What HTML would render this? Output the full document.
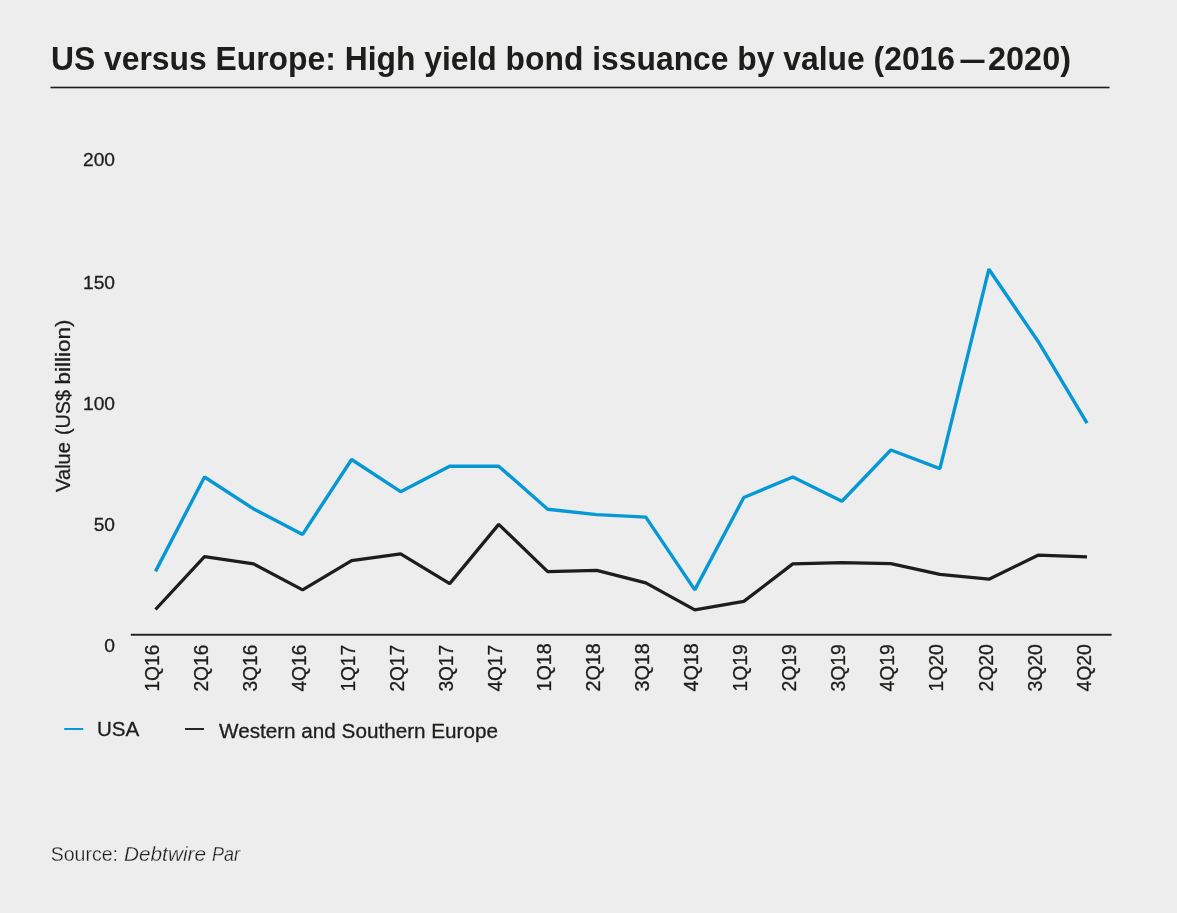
<!DOCTYPE html>
<html lang="en">
<head>
<meta charset="utf-8">
<title>US versus Europe: High yield bond issuance by value (2016—2020)</title>
<style>
html,body{margin:0;padding:0;background:#ededed;}
body{width:1177px;height:913px;overflow:hidden;font-family:"Liberation Sans",sans-serif;}
svg{display:block}
text{font-family:"Liberation Sans",sans-serif;fill:#1d1d1b}
.title{font-size:32.3px;font-weight:bold;fill:#1d1d1b}
.yl{font-size:19.2px;stroke:#1d1d1b;stroke-width:0.3px}
.xl,.lg{font-size:20px;stroke:#1d1d1b;stroke-width:0.3px}
.yt{font-size:20.5px;stroke:#1d1d1b;stroke-width:0.3px}
.src{font-size:20px;fill:#1d1d1b;stroke:#ededed;stroke-width:0.28px}
</style>
</head>
<body>
<svg width="1177" height="913" viewBox="0 0 1177 913">
<rect width="1177" height="913" fill="#ededed"/>
<text class="title" y="69.6"><tspan x="51" textLength="904" lengthAdjust="spacingAndGlyphs">US versus Europe: High yield bond issuance by value (2016</tspan><tspan x="960.5" textLength="24" lengthAdjust="spacingAndGlyphs">—</tspan><tspan x="988" textLength="83" lengthAdjust="spacingAndGlyphs">2020)</tspan></text>
<rect x="50.5" y="86.7" width="1059" height="1.6" fill="#1d1d1b"/>
<text class="yl" x="83.0" y="166.4" textLength="32" lengthAdjust="spacingAndGlyphs">200</text>
<text class="yl" x="83.0" y="288.7" textLength="32" lengthAdjust="spacingAndGlyphs">150</text>
<text class="yl" x="83.0" y="409.9" textLength="32" lengthAdjust="spacingAndGlyphs">100</text>
<text class="yl" x="93.7" y="530.5" textLength="21.3" lengthAdjust="spacingAndGlyphs">50</text>
<text class="yl" x="104.3" y="651.8" textLength="10.7" lengthAdjust="spacingAndGlyphs">0</text>
<text class="yt" transform="translate(70,492) rotate(-90)"><tspan x="0" textLength="50" lengthAdjust="spacingAndGlyphs">Value</tspan> <tspan x="57" textLength="45" lengthAdjust="spacingAndGlyphs">(US$</tspan> <tspan x="107.5" textLength="65" lengthAdjust="spacingAndGlyphs">billion)</tspan></text>
<rect x="130.8" y="633.8" width="980.8" height="1.9" fill="#1d1d1b"/>
<polyline fill="none" stroke="#0598d5" stroke-width="3.4" stroke-linejoin="bevel" points="155.5,571.4 204.5,477.0 253.6,508.9 302.6,534.4 351.6,459.5 400.6,491.7 449.7,466.2 498.7,466.2 547.7,509.2 596.7,514.6 645.8,517.1 694.8,589.9 743.8,497.5 792.8,477.0 841.9,501.2 890.9,450.0 939.9,468.7 988.9,269.2 1038.0,341.2 1087.0,423.2"/>
<polyline fill="none" stroke="#1d1d1b" stroke-width="3.25" stroke-linejoin="bevel" points="155.5,609.5 204.5,556.7 253.6,563.9 302.6,589.9 351.6,560.7 400.6,553.9 449.7,583.6 498.7,524.4 547.7,571.6 596.7,570.4 645.8,582.8 694.8,609.9 743.8,601.4 792.8,563.9 841.9,562.6 890.9,563.7 939.9,574.4 988.9,579.2 1038.0,555.2 1087.0,556.9"/>
<text class="xl" transform="translate(158.7,691.6) rotate(-90)" textLength="46.9" lengthAdjust="spacingAndGlyphs">1Q16</text>
<text class="xl" transform="translate(207.7,691.6) rotate(-90)" textLength="46.9" lengthAdjust="spacingAndGlyphs">2Q16</text>
<text class="xl" transform="translate(256.8,691.6) rotate(-90)" textLength="46.9" lengthAdjust="spacingAndGlyphs">3Q16</text>
<text class="xl" transform="translate(305.8,691.6) rotate(-90)" textLength="46.9" lengthAdjust="spacingAndGlyphs">4Q16</text>
<text class="xl" transform="translate(354.8,691.6) rotate(-90)" textLength="46.6" lengthAdjust="spacingAndGlyphs">1Q17</text>
<text class="xl" transform="translate(403.9,691.6) rotate(-90)" textLength="46.6" lengthAdjust="spacingAndGlyphs">2Q17</text>
<text class="xl" transform="translate(452.9,691.6) rotate(-90)" textLength="46.6" lengthAdjust="spacingAndGlyphs">3Q17</text>
<text class="xl" transform="translate(501.9,691.6) rotate(-90)" textLength="46.6" lengthAdjust="spacingAndGlyphs">4Q17</text>
<text class="xl" transform="translate(550.9,691.6) rotate(-90)" textLength="48.4" lengthAdjust="spacingAndGlyphs">1Q18</text>
<text class="xl" transform="translate(600.0,691.6) rotate(-90)" textLength="48.4" lengthAdjust="spacingAndGlyphs">2Q18</text>
<text class="xl" transform="translate(649.0,691.6) rotate(-90)" textLength="48.4" lengthAdjust="spacingAndGlyphs">3Q18</text>
<text class="xl" transform="translate(698.0,691.6) rotate(-90)" textLength="48.4" lengthAdjust="spacingAndGlyphs">4Q18</text>
<text class="xl" transform="translate(747.1,691.6) rotate(-90)" textLength="47.5" lengthAdjust="spacingAndGlyphs">1Q19</text>
<text class="xl" transform="translate(796.1,691.6) rotate(-90)" textLength="47.5" lengthAdjust="spacingAndGlyphs">2Q19</text>
<text class="xl" transform="translate(845.1,691.6) rotate(-90)" textLength="47.5" lengthAdjust="spacingAndGlyphs">3Q19</text>
<text class="xl" transform="translate(894.2,691.6) rotate(-90)" textLength="47.5" lengthAdjust="spacingAndGlyphs">4Q19</text>
<text class="xl" transform="translate(943.2,691.6) rotate(-90)" textLength="47.45" lengthAdjust="spacingAndGlyphs">1Q20</text>
<text class="xl" transform="translate(993.1,691.6) rotate(-90)" textLength="47.45" lengthAdjust="spacingAndGlyphs">2Q20</text>
<text class="xl" transform="translate(1042.1,691.6) rotate(-90)" textLength="47.45" lengthAdjust="spacingAndGlyphs">3Q20</text>
<text class="xl" transform="translate(1091.2,691.6) rotate(-90)" textLength="47.45" lengthAdjust="spacingAndGlyphs">4Q20</text>
<rect x="64.2" y="728" width="19" height="2" fill="#0898d5"/>
<text class="lg" x="97" y="735.9" style="font-size:21px" textLength="42.3" lengthAdjust="spacingAndGlyphs">USA</text>
<rect x="185" y="728.05" width="19" height="1.9" fill="#1d1d1b"/>
<text class="lg" x="219" y="737.8" textLength="279" lengthAdjust="spacingAndGlyphs">Western and Southern Europe</text>
<text class="src" y="861.4"><tspan x="50.7" textLength="67.3" lengthAdjust="spacingAndGlyphs">Source:</tspan> <tspan x="124" font-style="italic" textLength="82" lengthAdjust="spacingAndGlyphs">Debtwire</tspan> <tspan x="212" font-style="italic" textLength="28" lengthAdjust="spacingAndGlyphs">Par</tspan></text>
</svg>
</body>
</html>
